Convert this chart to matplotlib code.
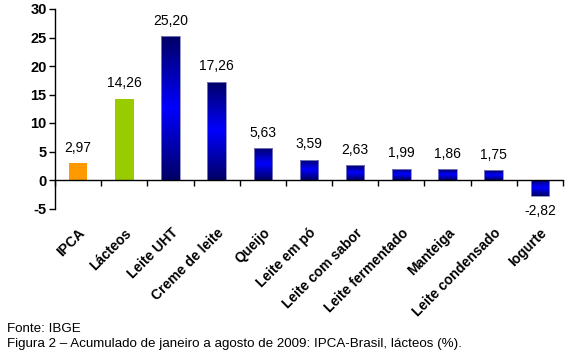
import matplotlib
matplotlib.use("Agg")
import matplotlib.pyplot as plt
import numpy as np
from matplotlib.colors import LinearSegmentedColormap

categories = ["IPCA", "Lácteos", "Leite UHT", "Creme de leite", "Queijo", "Leite em pó",
              "Leite com sabor", "Leite fermentado", "Manteiga", "Leite condensado", "Iogurte"]
values = [2.97, 14.26, 25.20, 17.26, 5.63, 3.59, 2.63, 1.99, 1.86, 1.75, -2.82]
solid_colors = {0: "#FF9900", 1: "#99CC00"}

plt.rcParams['font.family'] = ['Liberation Sans', 'DejaVu Sans']

fig = plt.figure(figsize=(5.71, 3.51), dpi=100)
ax = fig.add_axes([55/571, 1-208.5/351, (563-55)/571, (208.5-9)/351])

x = np.arange(len(categories))
cmap = LinearSegmentedColormap.from_list("blu", ["#000066", "#0000B0", "#0000FF", "#0000B0", "#000066"])
grad = np.linspace(0, 1, 256).reshape(-1, 1)

bars = ax.bar(x, values, width=0.4, zorder=2)
for i, (b, v) in enumerate(zip(bars, values)):
    if i in solid_colors:
        b.set_facecolor(solid_colors[i])
        b.set_edgecolor('none')
    else:
        b.set_facecolor('none')
        b.set_edgecolor('#8888BB')
        b.set_linewidth(0.6)
        x0 = b.get_x()
        x1 = x0 + b.get_width()
        y0, y1 = min(0, v), max(0, v)
        im = ax.imshow(grad, cmap=cmap, extent=(x0, x1, y0, y1), aspect='auto',
                       origin='upper', zorder=1.5)
        im.set_clip_path(b)

for xi, v in zip(x, values):
    lab = f"{v:.2f}".replace(".", ",")
    if v >= 0:
        ax.annotate(lab, (xi, v), xytext=(0, 6), textcoords='offset points',
                    ha='center', va='bottom', fontsize=10)
    else:
        ax.annotate(lab, (xi, v), xytext=(0, -6), textcoords='offset points',
                    ha='center', va='top', fontsize=10)

ax.set_xlim(-0.5, len(categories) - 0.5)
ax.set_ylim(-5, 30)
ax.set_yticks(np.arange(-5, 31, 5))
ax.set_yticklabels([str(t) for t in range(-5, 31, 5)], fontweight='bold', fontsize=10.5)

ax.spines['top'].set_visible(False)
ax.spines['right'].set_visible(False)
ax.spines['bottom'].set_position(('data', 0))
ax.spines['left'].set_linewidth(1.0)
ax.spines['bottom'].set_linewidth(1.0)

ax.set_xticks(x)
ax.set_xticks(np.arange(len(categories) + 1) - 0.5, minor=True)
ax.tick_params(axis='x', which='major', length=0, pad=33)
ax.tick_params(axis='x', which='minor', length=4, direction='out', width=1)
ax.tick_params(axis='y', length=4, width=1, pad=2)
ax.set_xticklabels(categories, rotation=45, ha='right', va='top', rotation_mode='anchor',
                   fontweight='bold', fontsize=10)

fig.text(7/571, 1-331.5/351, "Fonte: IBGE", fontsize=9.6, va='baseline', ha='left')
fig.text(7/571, 1-346.5/351,
         "Figura 2 – Acumulado de janeiro a agosto de 2009: IPCA-Brasil, lácteos (%).",
         fontsize=9.6, va='baseline', ha='left')

fig.savefig("out.png", dpi=100)
